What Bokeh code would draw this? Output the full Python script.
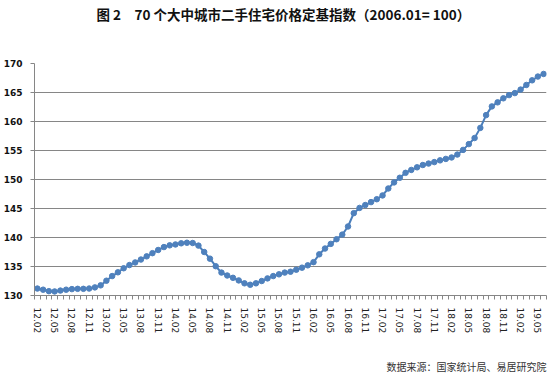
from bokeh.plotting import figure
from bokeh.models import Range1d, FixedTicker, Title
from bokeh.embed import file_html
from bokeh.resources import INLINE

# months 12.02 ... 19.06
months = []
for yy in range(12, 20):
    for mm in range(1, 13):
        if (yy == 12 and mm < 2) or (yy == 19 and mm > 6):
            continue
        months.append(f"{yy}.{mm:02d}")

index_values = [
    131.2, 131.0, 130.75, 130.7, 130.85, 131.0, 131.1, 131.15, 131.15, 131.2,
    131.4, 131.75, 132.55, 133.35, 134.0, 134.7, 135.25, 135.7, 136.2, 136.75,
    137.3, 137.85, 138.35, 138.65, 138.8, 139.0, 139.1, 139.05, 138.6, 137.5,
    136.35, 135.05, 133.95, 133.45, 133.05, 132.6, 132.1, 131.85, 132.1, 132.5,
    132.95, 133.35, 133.65, 133.95, 134.1, 134.45, 134.8, 135.2, 135.75, 137.1,
    138.1, 138.9, 139.7, 140.5, 141.9, 144.2, 145.1, 145.6, 146.1, 146.6,
    147.25, 148.45, 149.5, 150.3, 151.15, 151.65, 152.1, 152.5, 152.75, 153.0,
    153.3, 153.55, 153.8, 154.3, 155.1, 156.1, 157.15, 158.9, 161.1, 162.6,
    163.3, 164.0, 164.55, 164.9, 165.5, 166.3, 167.1, 167.75, 168.2,
]

y_ticks = [130, 135, 140, 145, 150, 155, 160, 165, 170]
title_text = "图 2　70 个大中城市二手住宅价格定基指数（2006.01= 100）"
source_text = "数据来源：国家统计局、易居研究院"

n = len(months)
xs = list(range(n))
label_pos = list(range(0, n, 3))
labels = {i: months[i] for i in label_pos}

p = figure(width=558, height=377, output_backend="svg", toolbar_location=None,
           x_range=Range1d(-0.5, n - 0.5), y_range=Range1d(130, 170),
           min_border_left=34, min_border_right=12, min_border_top=63,
           min_border_bottom=82, title=None)
p.outline_line_color = None
p.background_fill_color = "white"
p.border_fill_color = "white"

# spacer between frame and title (first "above" panel sits next to the frame)
p.add_layout(Title(text=" ", text_font_size="1px", standoff=37), "above")
p.add_layout(Title(text=title_text, align="left", offset=62, standoff=0,
                   text_font="Noto Sans CJK SC", text_font_size="13.5px",
                   text_font_style="bold", text_color="#111111"), "above")

# spacer between x axis and source note
p.add_layout(Title(text=" ", text_font_size="1px", standoff=17), "below")
p.add_layout(Title(text=source_text, align="right", offset=0, standoff=0,
                   text_font="Noto Sans CJK SC", text_font_size="10px",
                   text_font_style="normal", text_color="#333333"), "below")

ax = p.xaxis[0]
ax.ticker = FixedTicker(ticks=label_pos, minor_ticks=[i - 0.5 for i in range(n + 1)])
ax.major_label_overrides = labels
ax.major_label_orientation = "vertical"
ax.major_tick_line_color = None
ax.minor_tick_out = 4
ax.minor_tick_in = 0
ax.minor_tick_line_color = "#868686"
ax.axis_line_color = "#868686"
ax.major_label_text_font = "DejaVu Sans"
ax.major_label_text_font_size = "9px"
ax.major_label_text_color = "#222222"
ax.major_label_standoff = 6

ay = p.yaxis[0]
ay.ticker = FixedTicker(ticks=y_ticks, minor_ticks=[])
ay.major_tick_out = 4
ay.major_tick_in = 0
ay.major_tick_line_color = "#868686"
ay.axis_line_color = "#868686"
ay.major_label_text_font = "DejaVu Sans"
ay.major_label_text_font_size = "9px"
ay.major_label_text_font_style = "bold"
ay.major_label_text_color = "#111111"
ay.major_label_standoff = 8

p.xgrid.grid_line_color = None
p.ygrid.grid_line_color = "#868686"
p.ygrid.grid_line_width = 1

p.line(xs, index_values, line_color="#4A7EBB", line_width=2)
p.scatter(xs, index_values, size=5.5, fill_color="#4F81BD", line_color="#4F81BD")

open("out.html", "w").write(file_html(p, INLINE))
